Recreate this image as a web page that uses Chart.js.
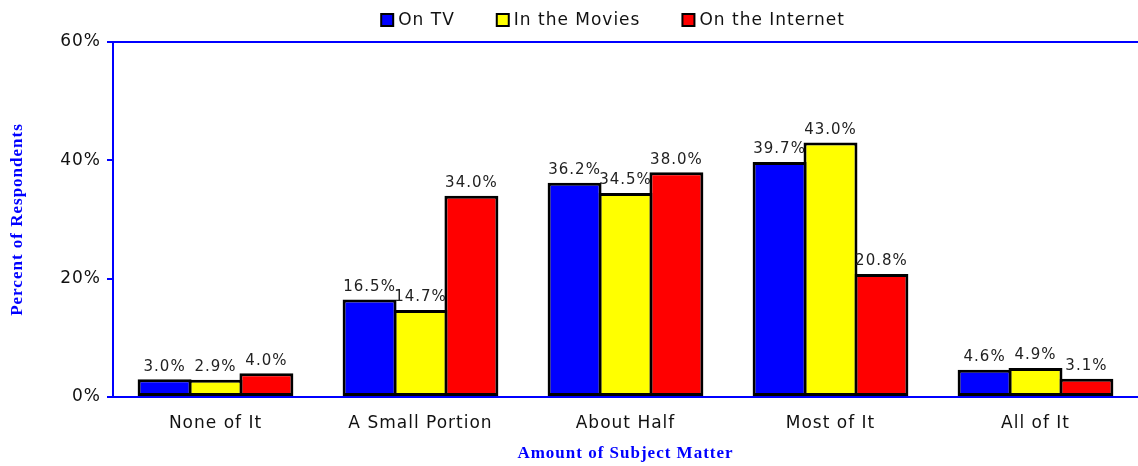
<!DOCTYPE html>
<html>
<head>
<meta charset="utf-8">
<script src="https://cdn.jsdelivr.net/npm/chart.js@4"></script>
<style>
html,body{margin:0;padding:0;background:#fff;}
#wrap{width:1138px;height:466px;position:relative;}
</style>
</head>
<body>
<div id="wrap"><canvas id="c" width="1138" height="466"></canvas></div>
<script>
const categories = ["None of It", "A Small Portion", "About Half", "Most of It", "All of It"];
const seriesNames = ["On TV", "In the Movies", "On the Internet"];
const onTV = [3.0, 16.5, 36.2, 39.7, 4.6];
const inMovies = [2.9, 14.7, 34.5, 43.0, 4.9];
const onInternet = [4.0, 34.0, 38.0, 20.8, 3.1];
const yTicks = [0, 20, 40, 60];
const colors = ["#0000ff", "#ffff00", "#ff0000"];

const FONT = "'DejaVu Sans', Verdana, sans-serif";
const SERIF = "'Liberation Serif', 'Times New Roman', serif";
const LS = '1px';

const spacingPlugin = {
  id: 'spacing',
  beforeLayout(chart){ chart.ctx.letterSpacing = LS; },
  beforeDraw(chart){ chart.ctx.letterSpacing = LS; }
};

const frame = {
  id: 'frame',
  afterDraw(chart){
    const ctx = chart.ctx, a = chart.chartArea;
    ctx.save();
    ctx.strokeStyle = '#0000ff';
    ctx.lineWidth = 2;
    ctx.beginPath();
    ctx.moveTo(a.left, a.top);
    ctx.lineTo(chart.width, a.top);
    ctx.stroke();
    ctx.restore();
  }
};

const customLegend = {
  id: 'customLegend',
  afterDraw(chart){
    const ctx = chart.ctx;
    ctx.save();
    ctx.letterSpacing = LS;
    ctx.font = "17px " + FONT;
    const box = 12, gapText = 5, gapItem = 42;
    const items = chart.data.datasets.map(ds => ({ text: ds.label, color: ds.backgroundColor, w: ctx.measureText(ds.label).width }));
    let total = 0;
    items.forEach((it, i) => { total += box + gapText + it.w + (i < items.length - 1 ? gapItem : 0); });
    let x = 613 - total / 2;
    const cy = 20;
    items.forEach(it => {
      ctx.fillStyle = it.color;
      ctx.fillRect(x, cy - box / 2, box, box);
      ctx.strokeStyle = '#000';
      ctx.lineWidth = 2;
      ctx.strokeRect(x, cy - box / 2, box, box);
      ctx.fillStyle = '#111';
      ctx.textAlign = 'left';
      ctx.textBaseline = 'middle';
      ctx.fillText(it.text, x + box + gapText, cy + 1);
      x += box + gapText + it.w + gapItem;
    });
    ctx.restore();
  }
};

const labels = {
  id: 'valLabels',
  afterDatasetsDraw(chart){
    const ctx = chart.ctx;
    ctx.save();
    ctx.letterSpacing = LS;
    ctx.font = "15px " + FONT;
    ctx.fillStyle = '#222';
    ctx.textAlign = 'center';
    ctx.textBaseline = 'bottom';
    chart.data.datasets.forEach((ds, i) => {
      chart.getDatasetMeta(i).data.forEach((bar, j) => {
        ctx.fillText(ds.data[j].toFixed(1) + '%', bar.x, bar.y - 5);
      });
    });
    ctx.restore();
  }
};

new Chart(document.getElementById('c'), {
  type: 'bar',
  data: {
    labels: categories,
    datasets: [onTV, inMovies, onInternet].map((d, i) => ({
      label: seriesNames[i],
      data: d,
      backgroundColor: colors[i],
      borderColor: '#000',
      borderWidth: 3,
      borderSkipped: false,
      categoryPercentage: 0.745,
      barPercentage: 1.06
    }))
  },
  options: {
    responsive: false,
    animation: false,
    devicePixelRatio: 1,
    layout: { padding: { left: 0, right: 0, top: 42, bottom: 0 } },
    plugins: {
      tooltip: { enabled: false },
      legend: { display: false }
    },
    scales: {
      x: {
        grid: { display: false, drawTicks: false },
        border: { color: '#0000ff', width: 2 },
        ticks: { color: '#111', font: { family: FONT, size: 17 }, padding: 16 },
        title: { display: true, text: 'Amount of Subject Matter', color: '#0000ff',
          font: { family: SERIF, size: 17, weight: 'bold' },
          padding: { top: 4, bottom: 2 } },
        afterFit(s){ s.height = 69; }
      },
      y: {
        min: 0, max: 60,
        afterBuildTicks(s){ s.ticks = yTicks.map(v => ({ value: v })); },
        grid: { display: true, drawOnChartArea: false, drawTicks: true, tickLength: 6, color: '#0000ff', lineWidth: 2 },
        border: { color: '#0000ff', width: 2 },
        ticks: { color: '#111', font: { family: FONT, size: 17 }, padding: 6, callback: v => v + '%' },
        title: { display: true, text: 'Percent of Respondents', color: '#0000ff',
          font: { family: SERIF, size: 17, weight: 'bold' },
          padding: { top: 7, bottom: 4 } },
        afterFit(s){ s.width = 113; }
      }
    }
  },
  plugins: [spacingPlugin, frame, labels, customLegend]
});
</script>
</body>
</html>
